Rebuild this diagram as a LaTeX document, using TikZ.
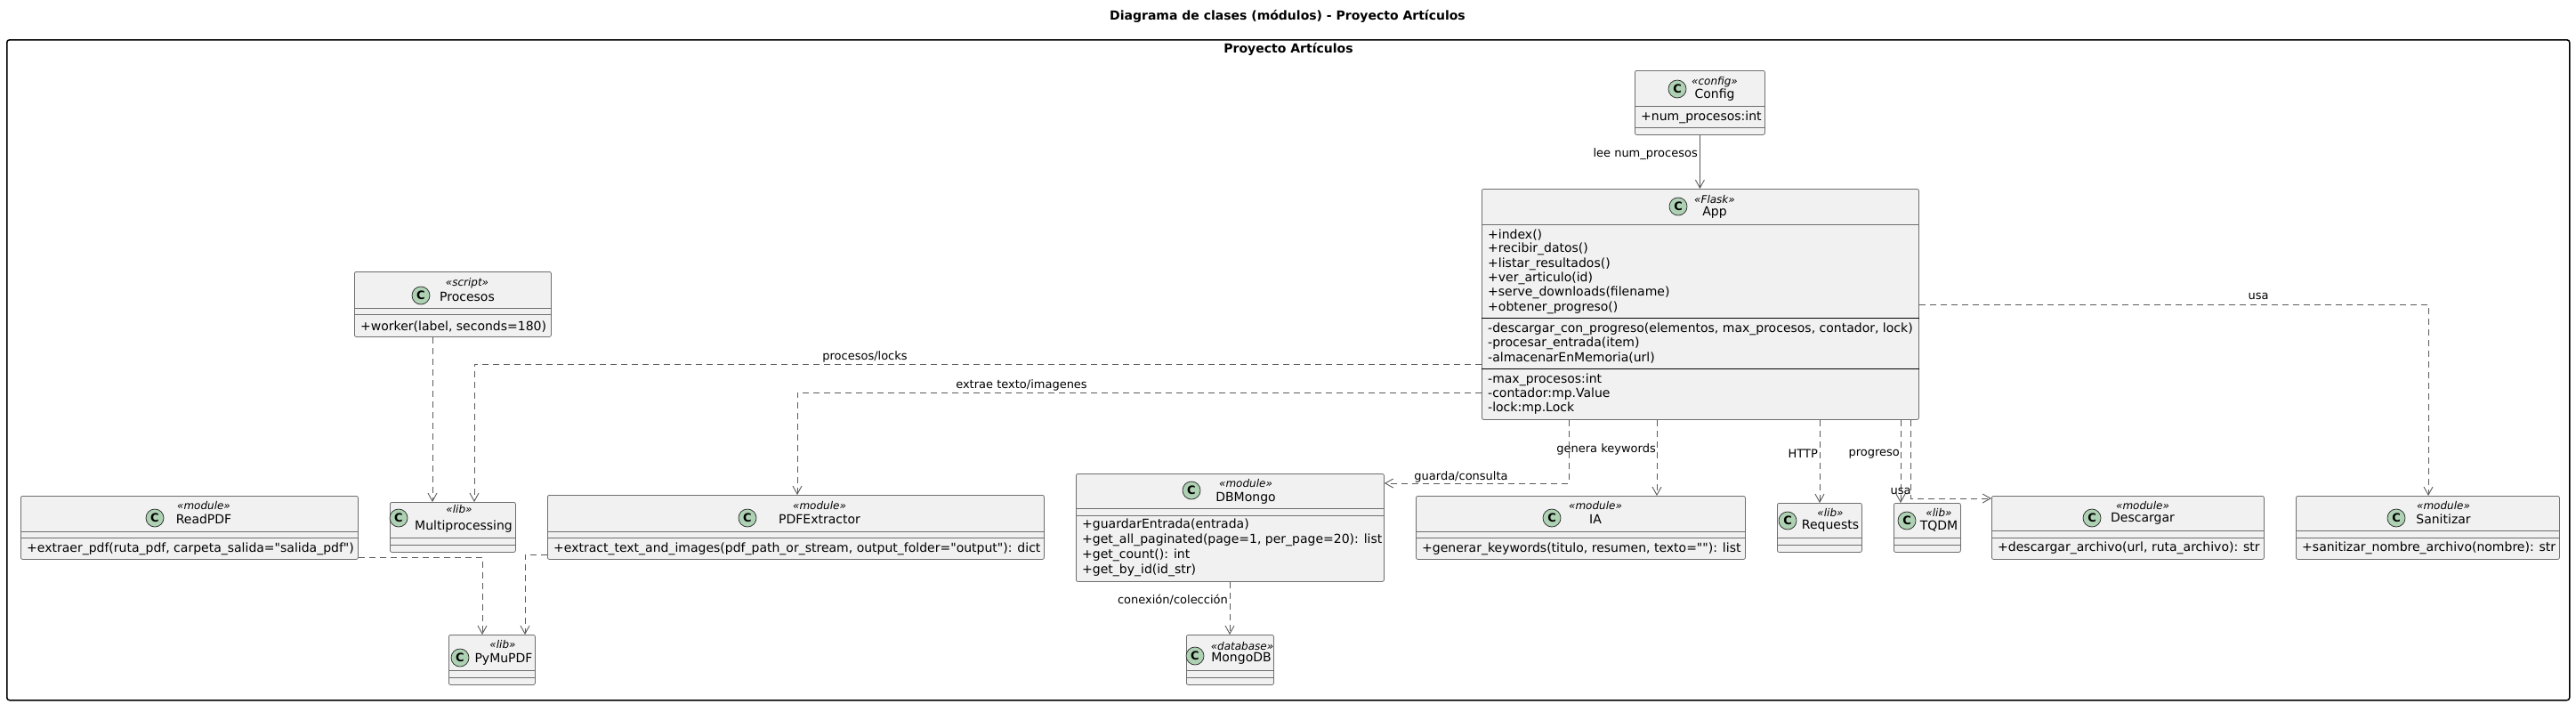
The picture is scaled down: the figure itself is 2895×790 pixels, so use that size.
\documentclass[tikz,border=0pt]{standalone}
\usepackage{fontspec}
\setmainfont{DejaVu Sans}[Ligatures=TeXOff]
\usetikzlibrary{arrows.meta}
\definecolor{boxfill}{HTML}{F1F1F1}
\definecolor{boxline}{HTML}{6E6E6E}
\definecolor{edgeline}{HTML}{5A5A5A}
\definecolor{spot}{HTML}{ADD1B2}
\tikzset{
  clase/.style={draw=boxline, fill=boxfill, rounded corners=2pt, line width=0.8pt, anchor=north west, inner sep=0pt},
  spotc/.style={circle, draw=black!85, fill=spot, line width=0.7pt, minimum size=20pt, inner sep=0pt, font=\fontsize{13}{13}\selectfont\bfseries},
  stereo/.style={font=\fontsize{12}{12}\selectfont\itshape, inner sep=0pt},
  nombre/.style={font=\fontsize{14}{14}\selectfont, inner sep=0pt},
  miembro/.style={font=\fontsize{14}{14}\selectfont, inner sep=0pt, anchor=west},
  lbl/.style={font=\fontsize{13}{13}\selectfont, inner sep=0pt},
  dep/.style={draw=edgeline, line width=0.9pt, dash pattern=on 7pt off 5pt, -{Straight Barb[length=9pt,width=10pt]}},
  assoc/.style={draw=edgeline, line width=0.9pt, -{Straight Barb[length=9pt,width=10pt]}},
}

\begin{document}
\begin{tikzpicture}[x=1pt,y=-1pt]
  \useasboundingbox (0,0) rectangle (2895,790);
  % package frame and titles
  \node[draw, line width=1.5pt, rounded corners=3pt, minimum width=2880pt, minimum height=742pt, anchor=north west, inner sep=0pt] (pkg) at (7,44) {};
  \node[font=\fontsize{14}{14}\selectfont\bfseries, inner sep=0pt] (titulo) at (1447,18) {Diagrama de clases (módulos) - Proyecto Artículos};
  \node[font=\fontsize{14}{14}\selectfont\bfseries, inner sep=0pt] (pkgname) at (1448,55) {Proyecto Artículos};

  % class boxes
  \foreach \name/\xa/\ya/\xb/\yb in {
    config/1837/79/1983/151,
    app/1665/212/2156/471,
    procesos/398/305/619/378,
    readpdf/23/557/402/628,
    multi/438/564/579/620,
    pdfx/615/556/1173/628,
    pymupdf/504/713/601/769,
    dbmongo/1209/532/1555/653,
    mongodb/1333/713/1431/769,
    ia/1591/557/1961/628,
    requests/1997/565/2092/620,
    tqdm/2128/565/2203/620,
    descargar/2238/557/2544/628,
    sanitizar/2580/557/2876/628%
  } {
    \pgfmathsetmacro\w{\xb-\xa}
    \pgfmathsetmacro\h{\yb-\ya}
    \node[clase, minimum width=\w pt, minimum height=\h pt] (\name) at (\xa,\ya) {};
  }

  % compartment lines
  \foreach \name/\y in {config/119, config/143, app/252, procesos/346, procesos/353,
    readpdf/597, readpdf/604, multi/604, multi/612, pdfx/597, pdfx/604,
    pymupdf/753, pymupdf/761, dbmongo/571, dbmongo/579, mongodb/753, mongodb/761,
    ia/597, ia/604, requests/604, requests/612, tqdm/604, tqdm/612,
    descargar/596, descargar/604, sanitizar/596, sanitizar/604} {
    \draw[boxline, line width=0.8pt] (\name.west |- 0,\y) -- (\name.east |- 0,\y);
  }
  \foreach \y in {357, 414} {
    \draw[black, line width=0.9pt] (app.west |- 0,\y) -- (app.east |- 0,\y);
  }

  % headers
  \foreach \name/\cx/\cy/\xs/\ys/\xn/\yn/\st/\tx in {
    config/1885/100/1927/92/1927/107/config/Config,
    app/1886/232/1927/224/1927/239/Flask/App,
    procesos/473/332/525/318/525/333/script/Procesos,
    readpdf/174/582/229/568/229/583/module/ReadPDF,
    multi/448/582/516/572/521/592/lib/Multiprocessing,
    pdfx/840/582/921/568/921/583/module/PDFExtractor,
    pymupdf/517/739/565/724/566/741/lib/PyMuPDF,
    dbmongo/1339/551/1400/543/1400/560/module/DBMongo,
    mongodb/1343/737/1396/726/1395/740/database/MongoDB,
    ia/1744/582/1793/568/1793/583/module/IA,
    requests/2009/585/2057/576/2057/591/lib/Requests,
    tqdm/2143/585/2179/576/2179/591/lib/TQDM,
    descargar/2351/582/2408/568/2408/583/module/Descargar,
    sanitizar/2693/582/2746/568/2746/583/module/Sanitizar%
  } {
    \node[spotc] (c-\name) at (\cx,\cy) {C};
    \node[stereo] (st-\name) at (\xs,\ys) {«\st»};
    \node[nombre] (n-\name) at (\xn,\yn) {\tx};
  }

  % members
  \foreach \name/\k/\y/\tx in {
    config/1/132/{+num\_procesos:int},
    app/1/264/{+index()},
    app/2/280/{+recibir\_datos()},
    app/3/297/{+listar\_resultados()},
    app/4/313/{+ver\_articulo(id)},
    app/5/329/{+serve\_downloads(filename)},
    app/6/346/{+obtener\_progreso()},
    app/7/370/{-descargar\_con\_progreso(elementos, max\_procesos, contador, lock)},
    app/8/386/{-procesar\_entrada(item)},
    app/9/402/{-almacenarEnMemoria(url)},
    app/10/427/{-max\_procesos:int},
    app/11/443/{-contador:mp.Value},
    app/12/459/{-lock:mp.Lock},
    procesos/1/367/{+worker(label, seconds=180)},
    readpdf/1/617/{+extraer\_pdf(ruta\_pdf, carpeta\_salida="salida\_pdf")},
    pdfx/1/617/{+extract\_text\_and\_images(pdf\_path\_or\_stream, output\_folder="output"): dict},
    dbmongo/1/590/{+guardarEntrada(entrada)},
    dbmongo/2/607/{+get\_all\_paginated(page=1, per\_page=20): list},
    dbmongo/3/624/{+get\_count(): int},
    dbmongo/4/641/{+get\_by\_id(id\_str)},
    ia/1/617/{+generar\_keywords(titulo, resumen, texto=""): list},
    descargar/1/616/{+descargar\_archivo(url, ruta\_archivo): str},
    sanitizar/1/616/{+sanitizar\_nombre\_archivo(nombre): str}%
  } {
    \node[miembro, xshift=7pt] (m-\name-\k) at (\name.west |- 0,\y) {\tx};
  }

  % connectors
  \draw[assoc] (config.south) -- (app.north -| config.south);
  \draw[dep] (procesos.south -| 486,0) -- (multi.north -| 486,0);
  \draw[dep] (app.west |- 0,409) -| (multi.north -| 533,0);
  \draw[dep] (app.west |- 0,441) -| (pdfx.north -| 896,0);
  \draw[dep] (app.south -| 1763,0) |- (dbmongo.east |- 0,543);
  \draw[dep] (app.south -| 1862,0) -- (ia.north -| 1862,0);
  \draw[dep] (app.south -| 2045,0) -- (requests.north -| 2045,0);
  \draw[dep] (app.south -| 2136,0) -- (tqdm.north -| 2136,0);
  \draw[dep] (app.south -| 2147,0) |- (descargar.west |- 0,560);
  \draw[dep] (app.east |- 0,342) -| (sanitizar.north -| 2729,0);
  \draw[dep] (dbmongo.south -| 1382,0) -- (mongodb.north -| 1382,0);
  \draw[dep] (readpdf.east |- 0,626) -| (pymupdf.north -| 542,0);
  \draw[dep] (pdfx.west |- 0,623) -| (pymupdf.north -| 590,0);

  % connector labels
  \node[lbl, anchor=east] (l-lee) at (1908,173) {lee num\_procesos};
  \node[lbl] (l-locks) at (972,401) {procesos/locks};
  \node[lbl] (l-extrae) at (1148,433) {extrae texto/imagenes};
  \node[lbl] (l-guarda) at (1642,536) {guarda/consulta};
  \node[lbl, anchor=east] (l-genera) at (1861,505) {genera keywords};
  \node[lbl, anchor=east] (l-http) at (2043,510) {HTTP};
  \node[lbl, anchor=east] (l-progreso) at (2135,510) {progreso};
  \node[lbl] (l-usa1) at (2136,552) {usa};
  \node[lbl] (l-usa2) at (2538,333) {usa};
  \node[lbl, anchor=east] (l-conexion) at (1380,674) {conexión/colección};
\end{tikzpicture}
\end{document}
